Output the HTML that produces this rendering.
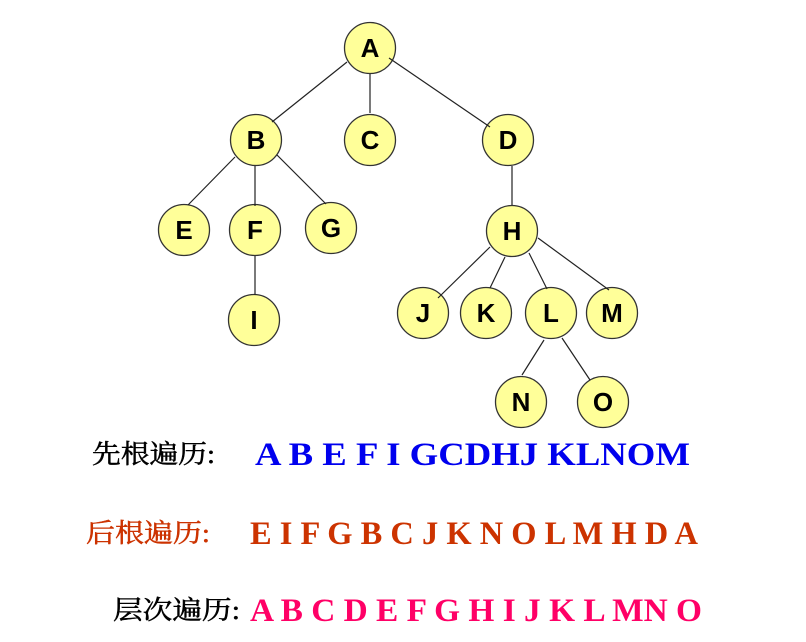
<!DOCTYPE html>
<html><head><meta charset="utf-8"><style>
html,body{margin:0;padding:0;background:#fff;}
svg{display:block;}
.n{fill:#ffff99;stroke:#333;stroke-width:1.3;}
.t{font-family:"Liberation Sans",sans-serif;font-weight:bold;font-size:26px;fill:#000;text-anchor:middle;}
.l{stroke:#222;stroke-width:1.2;}
.s{font-family:"Liberation Serif",serif;font-weight:bold;font-size:33px;}
.c{font-family:"Liberation Serif","Noto Serif CJK SC",serif;font-size:26px;stroke-width:0.5;}
</style></head><body>
<svg width="806" height="642" viewBox="0 0 806 642">
<g class="n">
<circle cx="370" cy="48" r="25.5"/>
<circle cx="256" cy="140" r="25.5"/>
<circle cx="370" cy="140" r="25.5"/>
<circle cx="508" cy="140" r="25.5"/>
<circle cx="184" cy="230" r="25.5"/>
<circle cx="255" cy="230" r="25.5"/>
<circle cx="331" cy="228" r="25.5"/>
<circle cx="512" cy="231" r="25.5"/>
<circle cx="254" cy="320" r="25.5"/>
<circle cx="423" cy="313" r="25.5"/>
<circle cx="486" cy="313" r="25.5"/>
<circle cx="551" cy="313" r="25.5"/>
<circle cx="612" cy="313" r="25.5"/>
<circle cx="521" cy="402" r="25.5"/>
<circle cx="603" cy="402" r="25.5"/>
</g>
<g class="l">
<line x1="347" y1="62" x2="272" y2="122"/>
<line x1="370" y1="74" x2="370" y2="113"/>
<line x1="389" y1="58" x2="490" y2="127"/>
<line x1="235" y1="157" x2="188" y2="205"/>
<line x1="255" y1="166" x2="255" y2="206"/>
<line x1="277" y1="155" x2="326" y2="204"/>
<line x1="255" y1="256" x2="255" y2="295"/>
<line x1="512" y1="166" x2="512" y2="205"/>
<line x1="490" y1="247" x2="438" y2="298"/>
<line x1="505" y1="257" x2="490" y2="288"/>
<line x1="529" y1="253" x2="547" y2="289"/>
<line x1="538" y1="238" x2="609" y2="290"/>
<line x1="544" y1="340" x2="522" y2="375"/>
<line x1="562" y1="338" x2="590" y2="380"/>
</g>
<g class="t">
<text x="370" y="57">A</text>
<text x="256" y="149">B</text>
<text x="370" y="149">C</text>
<text x="508" y="149">D</text>
<text x="184" y="239">E</text>
<text x="255" y="239">F</text>
<text x="331" y="237">G</text>
<text x="512" y="240">H</text>
<text x="254" y="329">I</text>
<text x="423" y="322">J</text>
<text x="486" y="322">K</text>
<text x="551" y="322">L</text>
<text x="612" y="322">M</text>
<text x="521" y="411">N</text>
<text x="603" y="411">O</text>
</g>
<text class="c" x="92" y="463" fill="#000" stroke="#000" textLength="123" lengthAdjust="spacingAndGlyphs">先根遍历:</text>
<text class="s" x="255" y="465" fill="#0000ee" textLength="435" lengthAdjust="spacingAndGlyphs">A B E F I  GCDHJ  KLNOM</text>
<text class="c" x="86" y="542" fill="#cc3300" stroke="#cc3300" textLength="124" lengthAdjust="spacingAndGlyphs">后根遍历:</text>
<text class="s" x="250" y="544" fill="#cc3300" textLength="448" lengthAdjust="spacingAndGlyphs">E I F G B C J K N O L M H D A</text>
<text class="c" x="113" y="619" fill="#000" stroke="#000" textLength="127" lengthAdjust="spacingAndGlyphs">层次遍历:</text>
<text class="s" x="250" y="621" fill="#ff0066" textLength="452" lengthAdjust="spacingAndGlyphs">A B C D E  F G H I  J  K L MN O</text>
</svg>
</body></html>
